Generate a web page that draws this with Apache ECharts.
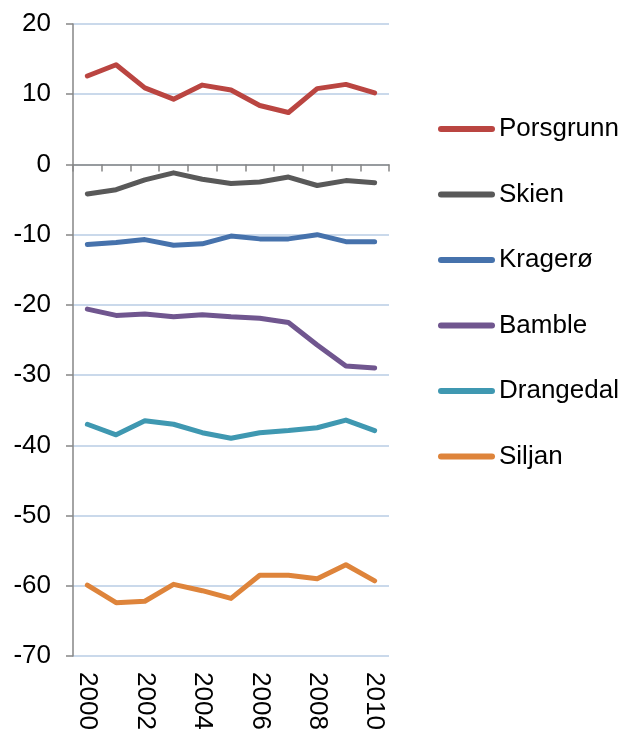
<!DOCTYPE html>
<html lang="en">
<head>
    <meta charset="UTF-8">
    <title>Telemark</title>
    <script src="https://cdn.jsdelivr.net/npm/echarts@6/dist/echarts.min.js"></script>
    <style>
        html, body {margin: 0; padding: 0; background: #fff;}
        #chart {width: 623px; height: 729px;}
    </style>
</head>
<body>
<div id="chart"></div>
<script>
    var years = ['2000', '2001', '2002', '2003', '2004', '2005', '2006', '2007', '2008', '2009', '2010'];
    var yTicks = [-70, -60, -50, -40, -30, -20, -10, 0, 10, 20];

    var porsgrunn = [12.6, 14.2, 10.9, 9.3, 11.3, 10.6, 8.4, 7.4, 10.8, 11.4, 10.2];
    var skien     = [-4.2, -3.6, -2.2, -1.2, -2.1, -2.7, -2.5, -1.8, -3.0, -2.3, -2.6];
    var kragero   = [-11.4, -11.1, -10.7, -11.5, -11.3, -10.2, -10.6, -10.6, -10.0, -11.0, -11.0];
    var bamble    = [-20.6, -21.5, -21.3, -21.7, -21.4, -21.7, -21.9, -22.5, -25.7, -28.7, -29.0];
    var drangedal = [-37.0, -38.5, -36.5, -37.0, -38.2, -39.0, -38.2, -37.9, -37.5, -36.4, -37.9];
    var siljan    = [-59.9, -62.4, -62.2, -59.8, -60.7, -61.8, -58.5, -58.5, -59.0, -57.0, -59.3];

    var names = ['Porsgrunn', 'Skien', 'Kragerø', 'Bamble', 'Drangedal', 'Siljan'];
    var values = [porsgrunn, skien, kragero, bamble, drangedal, siljan];
    var colors = ['#BA4541', '#595959', '#4672AC', '#70568F', '#3F98B1', '#DE843B'];

    var axisGray = '#868686';
    var gridBlue = '#B9CDE5';
    var font = '"Liberation Sans", Arial, sans-serif';

    var chart = echarts.init(document.getElementById('chart'));

    var series = [];
    for (var i = 0; i < names.length; i++) {
        series.push({
            name: names[i],
            type: 'line',
            xAxisIndex: 0,
            symbol: 'none',
            lineStyle: {width: 5, color: colors[i], cap: 'round', join: 'round'},
            itemStyle: {color: colors[i]},
            data: values[i]
        });
    }

    var option = {
        animation: false,
        backgroundColor: '#fff',
        grid: {left: 73, right: 234, top: 24, bottom: 73, outerBoundsMode: 'none'},
        legend: {
            orient: 'vertical',
            left: 438,
            top: 116,
            padding: 0,
            itemWidth: 57,
            itemHeight: 6,
            itemGap: 39.5,
            icon: 'path://M3,0H54A3,3,0,0,1,54,6H3A3,3,0,0,1,3,0Z',
            textStyle: {fontFamily: font, fontSize: 26, lineHeight: 26, color: '#000', padding: [0, 0, 0, -1]},
            data: names
        },
        xAxis: [{
            // axis line crossing at zero, with ticks
            type: 'category',
            data: years,
            position: 'bottom',
            boundaryGap: true,
            axisLine: {show: true, onZero: true, lineStyle: {color: axisGray, width: 1.5}},
            axisTick: {show: true, length: 7, interval: 0, lineStyle: {color: axisGray, width: 1.5}},
            axisLabel: {show: false},
            splitLine: {show: false}
        }, {
            // labels at the bottom
            type: 'category',
            data: years,
            position: 'bottom',
            boundaryGap: true,
            axisLine: {show: false, onZero: false},
            axisTick: {show: false},
            axisLabel: {
                show: true,
                interval: 1,
                rotate: -90,
                margin: 16,
                fontFamily: font,
                fontSize: 26,
                color: '#000'
            },
            splitLine: {show: false}
        }],
        yAxis: {
            type: 'value',
            min: yTicks[0],
            max: yTicks[yTicks.length - 1],
            interval: 10,
            axisLine: {show: true, lineStyle: {color: axisGray, width: 1.5}},
            axisTick: {show: true, length: 7, lineStyle: {color: axisGray, width: 1.5}},
            axisLabel: {fontFamily: font, fontSize: 26, color: '#000', margin: 22},
            splitLine: {show: true, lineStyle: {color: gridBlue, width: 1.5}}
        },
        series: series
    };
    chart.setOption(option);
</script>
</body>
</html>
